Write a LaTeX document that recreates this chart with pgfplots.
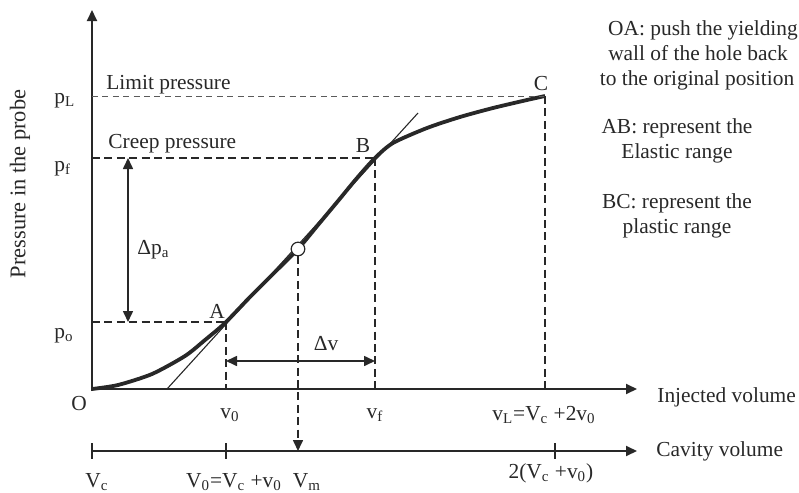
\documentclass[border=0pt]{standalone}
\usepackage{fontspec}
\setmainfont{Liberation Serif}
\usepackage{pgfplots}
\pgfplotsset{compat=1.18}
\usetikzlibrary{arrows.meta}
\definecolor{ink}{RGB}{40,40,40}
\definecolor{lite}{RGB}{90,90,90}

\begin{document}
\begin{tikzpicture}[
    txt/.style={font=\fontsize{10.7}{12}\selectfont, text=ink, inner sep=0pt},
    tip/.style={-{Triangle[length=5.5pt,width=5pt]}},
    dsh/.style={ink, line width=0.8pt, dash pattern=on 4pt off 2.2pt},
  ]
\begin{axis}[
    width=399.5pt, height=246.5pt, scale only axis,
    xmin=0, xmax=799, ymin=0, ymax=493,
    y dir=reverse,
    hide axis, clip=false,
  ]
% pressure-volume curve O-A-B-C
\addplot[ink, line width=1.9pt, smooth, tension=0.45] coordinates {
  (92,389) (118,385) (152,374) (185,356) (205,340) (225,323)
  (250,297) (274,273) (298,249) (318,225) (338,201) (357,178)
  (375,158) (393,143) (427,128) (460,117) (493,108) (527,100) (545,96)
};
% tangent line of the elastic range
\addplot[ink, line width=0.55pt] coordinates {(167,389) (418,113)};

% axes
\draw[ink, line width=1pt, tip] (92,391) -- (92,10);
\draw[ink, line width=1pt, tip] (91,389) -- (637,389);
\draw[ink, line width=1pt, tip] (92,451) -- (637,451);
\draw[ink, line width=1pt] (92,443) -- (92,459);
\draw[ink, line width=1pt] (226,443) -- (226,459);
\draw[ink, line width=1pt] (555,443) -- (555,459);

% guide lines
\draw[lite, line width=0.5pt, dash pattern=on 3pt off 2.2pt] (92,96) -- (545,96);
\draw[dsh] (92,158) -- (375,158);
\draw[dsh] (92,322) -- (226,322);
\draw[dsh] (226,322) -- (226,389);
\draw[dsh] (375,158) -- (375,389);
\draw[dsh] (545,96) -- (545,389);
\draw[dsh, tip] (298,256) -- (298,451);

% circle at the inflection point
\addplot[only marks, mark=*, mark size=3.4pt,
  mark options={fill=white, draw=ink, line width=0.6pt}] coordinates {(298,249)};

% delta arrows
\draw[ink, line width=0.8pt, {Triangle[length=5.5pt,width=5pt]}-{Triangle[length=5.5pt,width=5pt]}] (128,158) -- (128,322);
\draw[ink, line width=0.8pt, {Triangle[length=5.5pt,width=5pt]}-{Triangle[length=5.5pt,width=5pt]}] (226,361) -- (375,361);

% labels
\node[txt, rotate=90, font=\fontsize{11.2}{13}\selectfont] at (20,184) {Pressure in the probe};
\node[txt, anchor=base west] at (106,89) {Limit pressure};
\node[txt, anchor=base west] at (108,148) {Creep pressure};
\node[txt, anchor=base] at (217,318) {A};
\node[txt, anchor=base] at (363,152) {B};
\node[txt, anchor=base] at (541,90) {C};
\node[txt, anchor=base] at (79,410) {O};
\node[txt, anchor=base west] at (54,103) {p\textsubscript{L}};
\node[txt, anchor=base west] at (54,171) {p\textsubscript{f}};
\node[txt, anchor=base west] at (54,338) {p\textsubscript{o}};
\node[txt, anchor=base west] at (137,254) {Δp\textsubscript{a}};
\node[txt, anchor=base] at (326,350) {Δv};
\node[txt, anchor=base] at (230,418) {v\textsubscript{0}};
\node[txt, anchor=base] at (375,418) {v\textsubscript{f}};
\node[txt, anchor=base] at (544,420) {v\textsubscript{L}=V\textsubscript{c} +2v\textsubscript{0}};
\node[txt, anchor=base] at (97,487) {V\textsubscript{c}};
\node[txt, anchor=base] at (234,487) {V\textsubscript{0}=V\textsubscript{c} +v\textsubscript{0}};
\node[txt, anchor=base] at (307,487) {V\textsubscript{m}};
\node[txt, anchor=base] at (551,478) {2(V\textsubscript{c} +v\textsubscript{0})};
\node[txt, anchor=base west] at (657,402) {Injected volume};
\node[txt, anchor=base west] at (656,456) {Cavity volume};

% notes on the right
\node[txt, anchor=base] at (703,35) {OA: push the yielding};
\node[txt, anchor=base] at (698,60) {wall of the hole back};
\node[txt, anchor=base] at (697,85) {to the original position};
\node[txt, anchor=base] at (677,133) {AB: represent the};
\node[txt, anchor=base] at (677,158) {Elastic range};
\node[txt, anchor=base] at (677,208) {BC: represent the};
\node[txt, anchor=base] at (677,233) {plastic range};

\coordinate (ll) at (0,493);
\coordinate (ur) at (799,0);
\end{axis}
\pgfresetboundingbox
\path (ll) rectangle (ur);
\end{tikzpicture}
\end{document}
